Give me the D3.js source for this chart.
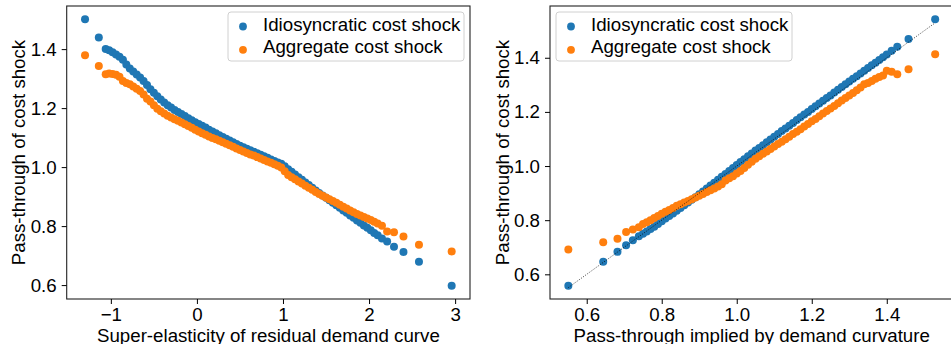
<!DOCTYPE html>
<html>
<head>
<meta charset="utf-8">
<script src="https://cdn.jsdelivr.net/npm/d3@7"></script>
<style>
  body { margin: 0; background: #fff; }
  svg text { font-family: "Liberation Sans", Arial, Helvetica, sans-serif; fill: #000; }
</style>
</head>
<body>
<svg id="fig" width="951" height="344"></svg>
<script>
// ---- Left panel: pass-through against super-elasticity ----
const superElasticity = [
  -1.30,-1.14,-1.06,-1.02,-0.98,-0.94,-0.90,-0.86,-0.82,-0.78,
  -0.74,-0.70,-0.66,-0.62,-0.58,-0.54,-0.50,-0.46,-0.42,-0.38,
  -0.34,-0.30,-0.26,-0.22,-0.18,-0.14,-0.10,-0.06,-0.02,0.02,
  0.06,0.10,0.14,0.18,0.22,0.26,0.30,0.34,0.38,0.42,
  0.46,0.50,0.54,0.58,0.62,0.66,0.70,0.74,0.78,0.82,
  0.86,0.90,0.94,0.98,1.02,1.06,1.10,1.14,1.18,1.22,
  1.26,1.30,1.34,1.38,1.42,1.46,1.50,1.54,1.58,1.62,
  1.66,1.70,1.74,1.78,1.82,1.86,1.90,1.94,1.98,2.02,
  2.06,2.10,2.15,2.21,2.29,2.40,2.58,2.96
];
const idioBySuperElasticity = [
  1.501,1.439,1.400,1.396,1.389,1.382,1.374,1.364,1.348,1.334,
  1.324,1.314,1.304,1.292,1.278,1.264,1.252,1.240,1.229,1.219,
  1.210,1.202,1.194,1.187,1.180,1.173,1.166,1.159,1.152,1.146,
  1.140,1.134,1.127,1.121,1.115,1.108,1.102,1.096,1.090,1.084,
  1.078,1.072,1.067,1.062,1.057,1.052,1.047,1.042,1.037,1.032,
  1.026,1.021,1.016,1.011,1.003,0.993,0.984,0.975,0.966,0.957,
  0.948,0.939,0.930,0.921,0.912,0.904,0.896,0.888,0.879,0.871,
  0.862,0.853,0.845,0.836,0.828,0.819,0.811,0.802,0.794,0.786,
  0.777,0.769,0.758,0.748,0.730,0.712,0.679,0.598
];
const aggBySuperElasticity = [
  1.379,1.343,1.315,1.317,1.316,1.313,1.306,1.292,1.285,1.281,
  1.273,1.266,1.258,1.246,1.232,1.222,1.210,1.198,1.189,1.182,
  1.174,1.168,1.162,1.157,1.151,1.145,1.139,1.133,1.127,1.121,
  1.115,1.110,1.104,1.099,1.094,1.089,1.084,1.079,1.074,1.069,
  1.063,1.058,1.053,1.048,1.043,1.039,1.034,1.029,1.024,1.019,
  1.015,1.010,1.005,0.999,0.986,0.973,0.966,0.959,0.951,0.944,
  0.937,0.930,0.923,0.916,0.909,0.903,0.897,0.891,0.885,0.879,
  0.872,0.866,0.860,0.853,0.847,0.841,0.836,0.831,0.826,0.821,
  0.815,0.809,0.801,0.782,0.779,0.765,0.737,0.714
];

// ---- Right panel: pass-through against curvature-implied pass-through ----
const impliedPassThrough = [
  0.551,0.644,0.682,0.705,0.723,0.739,0.75,0.76,0.77,0.78,
  0.79,0.80,0.81,0.82,0.83,0.84,0.85,0.86,0.87,0.88,
  0.89,0.90,0.91,0.92,0.93,0.94,0.95,0.96,0.97,0.98,
  0.99,1.00,1.01,1.02,1.03,1.04,1.05,1.06,1.07,1.08,
  1.09,1.10,1.11,1.12,1.13,1.14,1.15,1.16,1.17,1.18,
  1.19,1.20,1.21,1.22,1.23,1.24,1.25,1.26,1.27,1.28,
  1.29,1.30,1.31,1.32,1.33,1.34,1.35,1.36,1.37,1.38,
  1.39,1.40,1.413,1.428,1.458,1.529
];
const idioByImplied = [
  0.558,0.646,0.683,0.707,0.726,0.741,0.750,0.758,0.767,0.776,
  0.786,0.796,0.806,0.815,0.825,0.835,0.845,0.855,0.865,0.875,
  0.885,0.896,0.906,0.917,0.928,0.938,0.949,0.960,0.971,0.982,
  0.993,1.004,1.015,1.025,1.036,1.046,1.057,1.067,1.077,1.088,
  1.098,1.108,1.118,1.129,1.139,1.149,1.159,1.170,1.180,1.190,
  1.200,1.211,1.221,1.231,1.241,1.251,1.261,1.272,1.282,1.292,
  1.302,1.312,1.322,1.332,1.342,1.352,1.362,1.372,1.382,1.392,
  1.402,1.412,1.426,1.441,1.469,1.542
];
const aggByImplied = [
  0.692,0.718,0.731,0.756,0.766,0.774,0.786,0.792,0.800,0.808,
  0.815,0.824,0.831,0.838,0.845,0.853,0.859,0.865,0.871,0.877,
  0.884,0.890,0.897,0.904,0.911,0.917,0.924,0.933,0.947,0.955,
  0.962,0.972,0.982,0.993,1.005,1.016,1.027,1.036,1.045,1.054,
  1.063,1.072,1.081,1.090,1.099,1.108,1.118,1.127,1.136,1.146,
  1.155,1.165,1.174,1.184,1.194,1.203,1.213,1.222,1.232,1.242,
  1.251,1.261,1.270,1.280,1.290,1.302,1.307,1.314,1.322,1.329,
  1.334,1.352,1.348,1.339,1.358,1.413
];

const seriesNames = ["Idiosyncratic cost shock", "Aggregate cost shock"];
const seriesColors = ["#1f77b4", "#ff7f0e"];
const leftXTicks = [-1, 0, 1, 2, 3];
const rightXTicks = [0.6, 0.8, 1.0, 1.2, 1.4];
const yTicks = [0.6, 0.8, 1.0, 1.2, 1.4];
const yTitle = "Pass-through of cost shock";
const leftXTitle = "Super-elasticity of residual demand curve";
const rightXTitle = "Pass-through implied by demand curvature";

const FONT = 18.7;
const svg = d3.select("#fig");

// Auto-limits with 5% margin on each side
function padded(values) {
  const [a, b] = d3.extent(values);
  const p = (b - a) * 0.05;
  return [a - p, b + p];
}

function panel(cfg) {
  const { box, xs, ys, xTicks, xFormat, xTitle, xTitleX, legendX, diagonal, yTitleX } = cfg;
  const x = d3.scaleLinear().domain(padded(xs)).range([box.left, box.right]);
  const y = d3.scaleLinear().domain(padded(ys.flat())).range([box.bottom, box.top]);

  const g = svg.append("g");
  const clipId = "clip" + Math.round(box.left);
  g.append("clipPath").attr("id", clipId)
    .append("rect")
    .attr("x", box.left).attr("y", box.top)
    .attr("width", box.right - box.left).attr("height", box.bottom - box.top);

  const plot = g.append("g").attr("clip-path", `url(#${clipId})`);

  // scatter series, first series underneath
  ys.forEach((vals, si) => {
    plot.append("g").selectAll("circle")
      .data(xs.map((xv, i) => [xv, vals[i]]))
      .join("circle")
      .attr("cx", d => x(d[0]))
      .attr("cy", d => y(d[1]))
      .attr("r", 4)
      .attr("fill", seriesColors[si]);
  });

  // 45-degree reference line
  if (diagonal) {
    const ext = d3.extent(xs);
    plot.append("line")
      .attr("x1", x(ext[0])).attr("y1", y(ext[0]))
      .attr("x2", x(ext[1])).attr("y2", y(ext[1]))
      .attr("stroke", "#000").attr("stroke-width", 0.9)
      .attr("stroke-dasharray", "1,1.6").attr("stroke-opacity", 0.85);
  }

  // axes frame
  g.append("rect")
    .attr("x", box.left).attr("y", box.top)
    .attr("width", box.right - box.left).attr("height", box.bottom - box.top)
    .attr("fill", "none").attr("stroke", "#222").attr("stroke-width", 1.1);

  const xAxis = g.append("g")
    .attr("transform", `translate(0,${box.bottom})`)
    .call(d3.axisBottom(x).tickValues(xTicks).tickFormat(xFormat)
      .tickSize(5).tickPadding(3.5).tickSizeOuter(0));
  const yAxis = g.append("g")
    .attr("transform", `translate(${box.left},0)`)
    .call(d3.axisLeft(y).tickValues(yTicks).tickFormat(d3.format(".1f"))
      .tickSize(5).tickPadding(5).tickSizeOuter(0));
  [xAxis, yAxis].forEach(a => {
    a.select(".domain").remove();
    a.selectAll("line").attr("stroke", "#000").attr("stroke-width", 1);
    a.selectAll("text").attr("font-size", FONT).attr("fill", "#000")
      .style("font-family", '"Liberation Sans", Arial, sans-serif');
  });

  // axis titles
  g.append("text")
    .attr("x", xTitleX)
    .attr("y", 341.5)
    .attr("text-anchor", "middle").attr("font-size", FONT)
    .text(xTitle);
  g.append("text")
    .attr("transform", `translate(${yTitleX},${(box.top + box.bottom) / 2}) rotate(-90)`)
    .attr("text-anchor", "middle").attr("font-size", FONT)
    .text(yTitle);

  // legend
  const lg = g.append("g").attr("transform", `translate(${legendX},12)`);
  lg.append("rect")
    .attr("x", 0).attr("y", 0).attr("width", 236).attr("height", 49)
    .attr("rx", 3).attr("fill", "#fff").attr("fill-opacity", 0.8)
    .attr("stroke", "#d0d0d0").attr("stroke-width", 1);
  seriesNames.forEach((name, i) => {
    lg.append("circle")
      .attr("cx", 15).attr("cy", 14.5 + i * 23.3)
      .attr("r", 3.9).attr("fill", seriesColors[i]);
    lg.append("text")
      .attr("x", 35).attr("y", 18.7 + i * 22.7)
      .attr("font-size", FONT)
      .text(name);
  });
}

panel({
  box: { left: 66.7, right: 470, top: 6, bottom: 299 },
  xs: superElasticity,
  ys: [idioBySuperElasticity, aggBySuperElasticity],
  xTicks: leftXTicks,
  xFormat: d3.format("d"),
  xTitle: leftXTitle,
  xTitleX: 268.4,
  legendX: 228,
  diagonal: false,
  yTitleX: 25
});

panel({
  box: { left: 550, right: 953.5, top: 6, bottom: 299 },
  xs: impliedPassThrough,
  ys: [idioByImplied, aggByImplied],
  xTicks: rightXTicks,
  xFormat: d3.format(".1f"),
  xTitle: rightXTitle,
  xTitleX: 751.7,
  legendX: 556,
  diagonal: true,
  yTitleX: 508.5
});
</script>
</body>
</html>
